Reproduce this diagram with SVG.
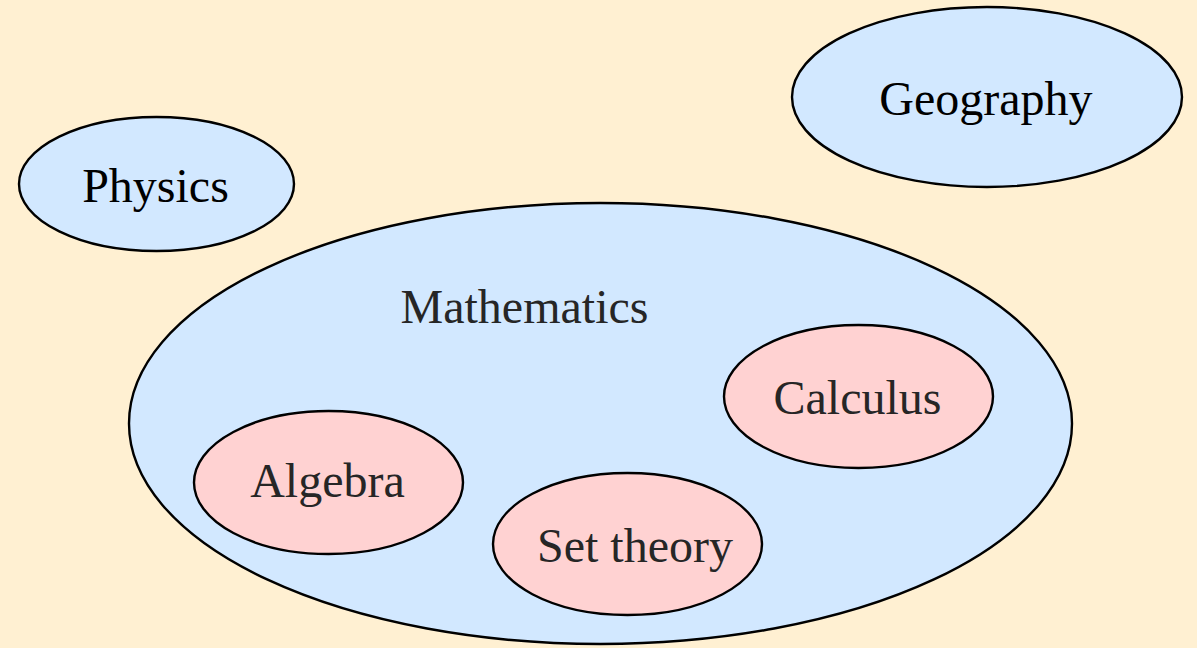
<svg xmlns="http://www.w3.org/2000/svg" width="1197" height="648" viewBox="0 0 1197 648">
<style>
.blue{fill:#D2E8FF;stroke:#000;stroke-width:2.4}
.pink{fill:#FFD2D2;stroke:#000;stroke-width:2.4}
.dk{fill:#000}
.gr{fill:#262626}
</style>
<rect x="0" y="0" width="1197" height="648" fill="#FFF0D2"/>
<g id="connectors"></g>
<g font-family="'Liberation Serif', 'Times New Roman', Times, serif" font-size="48" text-anchor="middle">
<g id="geography">
<ellipse class="blue" cx="987" cy="97" rx="195" ry="90"/>
<text class="dk" x="986" y="115">Geography</text>
</g>
<g id="physics">
<ellipse class="blue" cx="156.5" cy="184" rx="137.5" ry="67"/>
<text class="dk" x="155.5" y="202">Physics</text>
</g>
<g id="mathematics">
<ellipse class="blue" cx="600.5" cy="423.5" rx="471.5" ry="220.5"/>
<text class="gr" x="524.5" y="323">Mathematics</text>
</g>
<g id="calculus">
<ellipse class="pink" cx="858.5" cy="396.5" rx="134.5" ry="71.5"/>
<text class="gr" x="857.5" y="414">Calculus</text>
</g>
<g id="algebra">
<ellipse class="pink" cx="328.5" cy="482.5" rx="134.5" ry="71.5"/>
<text class="gr" x="327.5" y="497">Algebra</text>
</g>
<g id="settheory">
<ellipse class="pink" cx="627.5" cy="544" rx="134.5" ry="71"/>
<text class="gr" x="635" y="562">Set theory</text>
</g>
</g>
</svg>
